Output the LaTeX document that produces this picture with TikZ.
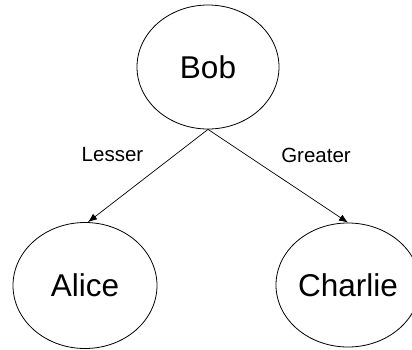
\documentclass[tikz,border=0pt]{standalone}
\usepackage{fontspec}
\setmainfont{Liberation Sans}
\usetikzlibrary{shapes.geometric,arrows.meta}
\begin{document}
\begin{tikzpicture}[x=1pt,y=-1pt,
  person/.style={draw=black,ellipse,line width=0.8pt,inner sep=0pt,
    font=\fontsize{31.5}{38}\selectfont},
  link/.style={draw=black,line width=0.7pt,-{Latex[length=9pt,width=7pt]}},
  edgelabel/.style={font=\fontsize{20.5}{24}\selectfont}]
  \useasboundingbox (0,0) rectangle (412,349);
  \node[person,minimum width=142pt,minimum height=124pt] (bob) at (208,67) {Bob};
  \node[person,minimum width=144pt,minimum height=126pt] (alice) at (85,285.5) {Alice};
  \node[person,minimum width=144pt,minimum height=124pt] (charlie) at (348,285) {Charlie};
  \draw[link] (bob.south) -- ([xshift=3pt]alice.north);
  \draw[link] (bob.south) -- (charlie.north);
  \node[edgelabel] (lesser) at (112.5,155) {Lesser};
  \node[edgelabel] (greater) at (316,155) {Greater};
\end{tikzpicture}
\end{document}
